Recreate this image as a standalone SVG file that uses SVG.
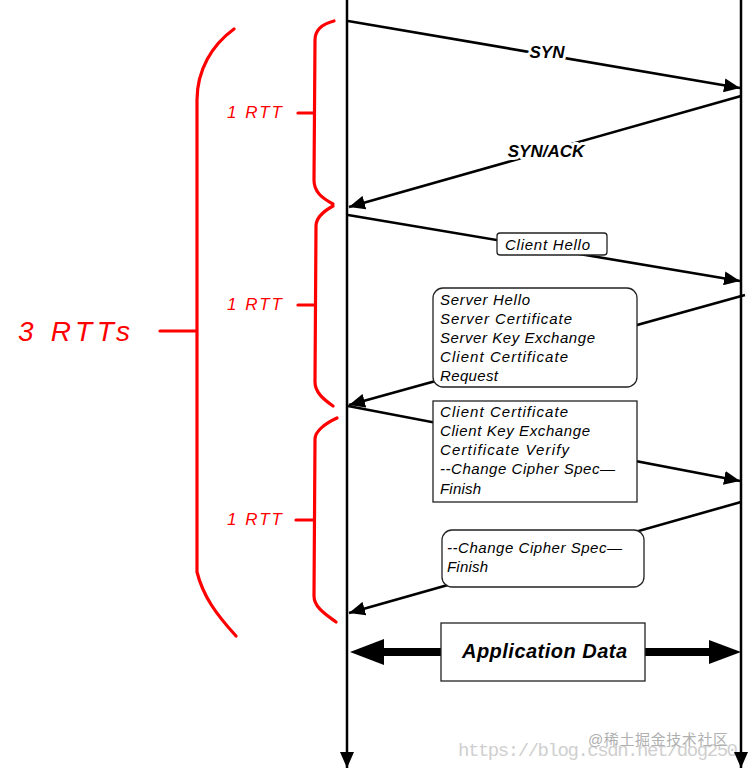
<svg xmlns="http://www.w3.org/2000/svg" width="750" height="770" viewBox="0 0 750 770">
<style>
.life{stroke:#000;stroke-width:2.5;fill:none}
.msg{stroke:#000;stroke-width:2.6;fill:none}
.box{fill:#fff;stroke:#222;stroke-width:1.3}
.t{font-family:"Liberation Sans",Arial,sans-serif;font-style:italic;font-size:15px;fill:#000}
.lbl{font-family:"Liberation Sans",Arial,sans-serif;font-style:italic;font-weight:bold;font-size:17px;fill:#000;stroke:#fff;stroke-width:6;paint-order:stroke;stroke-linejoin:round}
.red{stroke:#f00;stroke-width:3.2;fill:none;stroke-linecap:round;stroke-linejoin:round}
.rt{font-family:"Liberation Sans",Arial,sans-serif;font-style:italic;fill:#f00}
.wm{font-family:"Liberation Mono","DejaVu Sans Mono",monospace;font-size:19px;fill:#cfcfcf}
.wm2{font-family:"Liberation Sans","Noto Sans CJK SC",sans-serif;font-size:15px;fill:#b0b0b0}
</style>
<defs>
<marker id="arr" markerUnits="userSpaceOnUse" markerWidth="18" markerHeight="14" refX="16" refY="7" orient="auto">
<path d="M0,0 L16,7 L0,14 z" fill="#000"/>
</marker>
</defs>

<g id="watermark">
<text class="wm" x="458" y="756" textLength="280">https://blog.csdn.net/dog250</text>
<text class="wm2" x="588" y="745" textLength="140">@稀土掘金技术社区</text>
</g>

<g id="lifelines">
<line class="life" x1="347" y1="0" x2="347" y2="768" marker-end="url(#arr)"/>
<line class="life" x1="741" y1="0" x2="741" y2="768" marker-end="url(#arr)"/>
</g>

<g id="connectors">
<line class="msg" x1="348" y1="21" x2="740" y2="88" marker-end="url(#arr)"/>
<line class="msg" x1="741" y1="96" x2="349" y2="207" marker-end="url(#arr)"/>
<line class="msg" x1="348" y1="215" x2="740" y2="281" marker-end="url(#arr)"/>
<line class="msg" x1="745" y1="295" x2="349" y2="405" marker-end="url(#arr)"/>
<line class="msg" x1="348" y1="406" x2="740" y2="481" marker-end="url(#arr)"/>
<line class="msg" x1="741" y1="502" x2="349" y2="613" marker-end="url(#arr)"/>
<g id="appdata-arrows" fill="#000">
<rect x="380" y="648" width="62" height="8"/>
<path d="M350,652 L384,639 L384,665 z"/>
<rect x="644" y="648" width="68" height="8"/>
<path d="M741,652 L709,640 L709,664 z"/>
</g>
</g>

<g id="syn">
<text class="lbl" x="547" y="58" text-anchor="middle">SYN</text>
</g>
<g id="synack">
<text class="lbl" x="546" y="157" text-anchor="middle">SYN/ACK</text>
</g>

<g id="client-hello">
<rect class="box" x="497" y="233" width="110" height="22" rx="3"/>
<text class="t" x="505" y="250" textLength="85">Client Hello</text>
</g>

<g id="server-hello">
<rect class="box" x="433" y="288" width="204" height="99" rx="10"/>
<text class="t" x="440" y="305" textLength="90">Server Hello</text>
<text class="t" x="440" y="324" textLength="132">Server Certificate</text>
<text class="t" x="440" y="343" textLength="155">Server Key Exchange</text>
<text class="t" x="440" y="362" textLength="128">Client Certificate</text>
<text class="t" x="440" y="381" textLength="58">Request</text>
</g>

<g id="client-cert">
<rect class="box" x="433" y="401" width="204" height="101"/>
<text class="t" x="440" y="417" textLength="128">Client Certificate</text>
<text class="t" x="440" y="436" textLength="150">Client Key Exchange</text>
<text class="t" x="440" y="455" textLength="129">Certificate Verify</text>
<text class="t" x="440" y="474" textLength="175">--Change Cipher Spec—</text>
<text class="t" x="440" y="494" textLength="41">Finish</text>
</g>

<g id="server-finish">
<rect class="box" x="442" y="530" width="202" height="57" rx="10"/>
<text class="t" x="447" y="553" textLength="175">--Change Cipher Spec—</text>
<text class="t" x="447" y="572" textLength="41">Finish</text>
</g>

<g id="app-data">
<rect class="box" x="441" y="623" width="204" height="58"/>
<text x="462" y="658" textLength="165" style="font-family:'Liberation Sans',Arial,sans-serif;font-style:italic;font-weight:bold;font-size:20px;fill:#000">Application Data</text>
</g>

<g id="rtt-braces">
<path class="red" d="M334,21 C322,24 315,30 315,40 L314,180 C314,192 322,198 333,204"/>
<path class="red" d="M298,113 L314,113"/>
<text class="rt" x="227" y="118" font-size="17" textLength="55">1 RTT</text>

<path class="red" d="M333,206 C324,211 316,218 316,226 L315,382 C315,392 323,399 333,406"/>
<path class="red" d="M298,305 L315,305"/>
<text class="rt" x="227" y="310" font-size="17" textLength="55">1 RTT</text>

<path class="red" d="M337,418 C326,423 315,431 315,439 L314,596 C314,607 325,614 336,622"/>
<path class="red" d="M296,520 L314,520"/>
<text class="rt" x="227" y="525" font-size="17" textLength="55">1 RTT</text>

<path class="red" d="M234,29 C212,45 197,70 197,100 L197,572 C203,596 216,614 236,636"/>
<path class="red" d="M160,331 L196,331"/>
<text class="rt" x="18" y="341" font-size="28" textLength="112">3 RTTs</text>
</g>
</svg>
